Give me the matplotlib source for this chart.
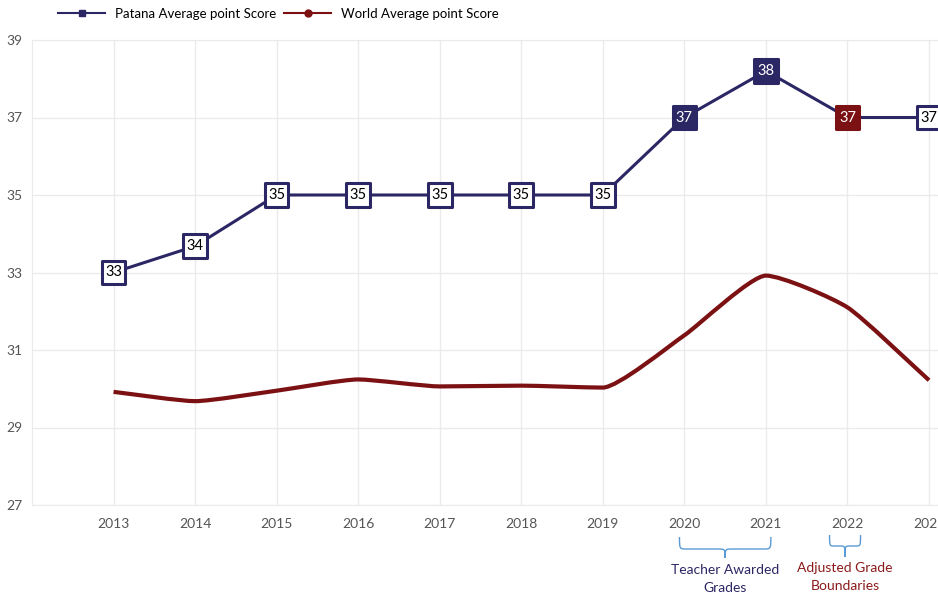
import numpy as np
import matplotlib
matplotlib.use("Agg")
import matplotlib.pyplot as plt
from matplotlib.path import Path
from matplotlib.patches import PathPatch
from matplotlib.lines import Line2D

# --- data ---
years = [2013, 2014, 2015, 2016, 2017, 2018, 2019, 2020, 2021, 2022, 2023]
patana = [33.0, 33.68, 35.0, 35.0, 35.0, 35.0, 35.0, 37.0, 38.2, 37.0, 37.0]
world = [29.92, 29.68, 29.95, 30.24, 30.06, 30.08, 30.03, 31.38, 32.92, 32.10, 30.22]
# box style of each Patana label: 'o' open, 'n' navy filled, 'r' red filled
label_style = ['o', 'o', 'o', 'o', 'o', 'o', 'o', 'n', 'n', 'r', 'o']

NAVY = '#2b2664'
RED = '#7b1113'
GRID = '#ebebeb'
BRACE = '#5b9bd5'
FONT = ['Lato', 'DejaVu Sans']

plt.rcParams['font.family'] = FONT


def monotone_path(x, y, tension=0.55):
    """Bezier path through the points with monotone tangents (softened)."""
    x = np.asarray(x, float)
    y = np.asarray(y, float)
    h = np.diff(x)
    d = np.diff(y) / h
    m = np.zeros_like(y)
    m[0], m[-1] = d[0], d[-1]
    for i in range(1, len(y) - 1):
        if d[i - 1] * d[i] <= 0:
            m[i] = 0.0
        else:
            m[i] = (d[i - 1] + d[i]) / 2
    verts = [(x[0], y[0])]
    codes = [Path.MOVETO]
    for i in range(len(h)):
        k = tension * h[i] / 3
        verts += [(x[i] + k, y[i] + m[i] * k),
                  (x[i + 1] - k, y[i + 1] - m[i + 1] * k),
                  (x[i + 1], y[i + 1])]
        codes += [Path.CURVE4] * 3
    return Path(verts, codes)


def brace(ax, x0, x1, top, body, tip, r=0.09):
    """Curly brace opening upwards; x in data, y in axes fraction."""
    xm = (x0 + x1) / 2
    verts = [(x0, top), (x0, body), (x0, body), (x0 + r, body),
             (xm - r, body),
             (xm, body), (xm, body), (xm, tip),
             (xm, body), (xm, body), (xm + r, body),
             (x1 - r, body),
             (x1, body), (x1, body), (x1, top)]
    codes = [Path.MOVETO] + [Path.CURVE4] * 3 + [Path.LINETO] + \
        [Path.CURVE4] * 6 + [Path.LINETO] + [Path.CURVE4] * 3
    ax.add_patch(PathPatch(Path(verts, codes), fill=False, edgecolor=BRACE,
                           lw=1.0, transform=ax.get_xaxis_transform(),
                           clip_on=False))


fig = plt.figure(figsize=(9.38, 5.97), dpi=100)
ax = fig.add_axes([32 / 938, 92 / 597, 906 / 938, 465 / 597])

ax.set_xlim(2012, 2023.11)
ax.set_ylim(27, 39)
ax.set_xticks(years)
ax.set_yticks(range(27, 40, 2))
ax.grid(True, color=GRID, lw=1)
ax.set_axisbelow(True)
for side in ['left', 'bottom', 'top']:
    ax.spines[side].set_color(GRID)
ax.spines['right'].set_visible(False)
ax.tick_params(length=0, labelsize=10, colors='#555555')
ax.tick_params(axis='x', pad=9)
ax.tick_params(axis='y', pad=7)

# world average: smooth curve
ax.add_patch(PathPatch(monotone_path(years, world), fill=False,
                       edgecolor=RED, lw=3, capstyle='butt', zorder=2))

# patana: straight segments with boxed labels
ax.plot(years, patana, color=NAVY, lw=2.2, zorder=2)
face = {'o': 'white', 'n': NAVY, 'r': RED}
edge = {'o': NAVY, 'n': NAVY, 'r': RED}
txt = {'o': 'black', 'n': 'white', 'r': 'white'}
ax.scatter(years, patana, marker='s', s=17 ** 2,
           facecolors=[face[s] for s in label_style],
           edgecolors=[edge[s] for s in label_style],
           linewidths=2.2, zorder=3, clip_on=False)
for x, y, s in zip(years, patana, label_style):
    ax.text(x, y, f"{y:.0f}", ha='center', va='center', fontsize=10.5,
            color=txt[s], zorder=4, clip_on=False)

# legend at the top
handles = [Line2D([], [], color=NAVY, lw=1.5, marker='s', markersize=5),
           Line2D([], [], color=RED, lw=1.5, marker='o', markersize=5)]
fig.legend(handles, ['Patana Average point Score', 'World Average point Score'],
           loc='upper left', bbox_to_anchor=(50 / 938, 1.0), ncol=2,
           frameon=False, fontsize=9.5, handlelength=3.6, handletextpad=0.7,
           columnspacing=0.6, borderaxespad=0.2)

# annotations under the x axis
brace(ax, 2019.94, 2021.06, -32 / 465, -44 / 465, -53 / 465)
brace(ax, 2021.78, 2022.16, -30 / 465, -41 / 465, -52 / 465, r=0.06)
ax.text(2020.5, -74 / 465, 'Teacher Awarded\nGrades', transform=ax.get_xaxis_transform(),
        ha='center', va='center', fontsize=10, color=NAVY, linespacing=1.55)
ax.text(2021.97, -72 / 465, 'Adjusted Grade\nBoundaries', transform=ax.get_xaxis_transform(),
        ha='center', va='center', fontsize=10, color='#8b1a1a', linespacing=1.55)

fig.savefig('out.png', dpi=100)
